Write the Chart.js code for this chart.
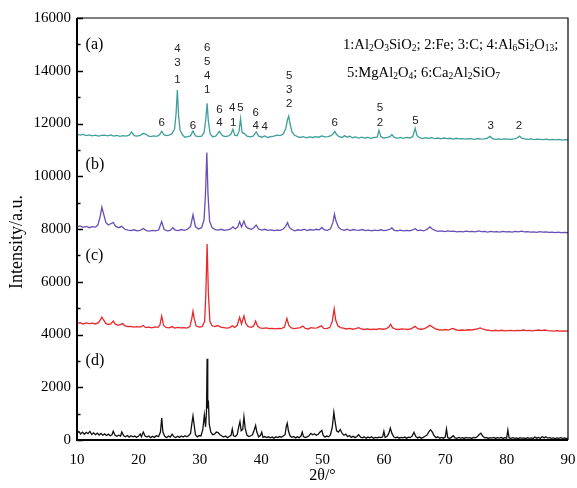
<!DOCTYPE html>
<html>
<head>
<meta charset="utf-8">
<script src="https://cdn.jsdelivr.net/npm/chart.js@4.4.1/dist/chart.umd.min.js"></script>
<style>
  html, body { margin: 0; padding: 0; background: #fff; }
  #xrdChart { display: block; }
</style>
</head>
<body>
<canvas id="xrdChart" width="577" height="488"></canvas>
<script>
// XRD patterns (a)-(d): [2θ, intensity]
const seriesA = [
  [10,11600],[10.5,11560],[11,11590],[11.5,11540],[12,11570],[12.5,11530],[13,11560],[13.5,11520],[14,11550],[14.5,11560],
  [15,11530],[15.5,11570],[16,11520],[16.5,11550],[17,11510],[17.5,11540],[18,11520],[18.5,11560],[18.9,11680],[19.3,11540],
  [19.8,11520],[20.3,11550],[20.8,11620],[21.2,11600],[21.6,11530],[22,11500],[22.5,11530],[23,11510],[23.4,11560],[23.8,11700],
  [24.2,11570],[24.6,11540],[25,11560],[25.5,11620],[25.9,11800],[26.15,12400],[26.35,13270],[26.55,12300],[26.8,11750],[27.2,11560],
  [27.6,11480],[28,11500],[28.5,11530],[28.9,11720],[29.3,11530],[29.8,11500],[30.3,11520],[30.7,11650],[31,12200],[31.2,12770],
  [31.4,12100],[31.7,11600],[32.1,11500],[32.6,11520],[33.2,11700],[33.7,11540],[34.2,11500],[34.7,11530],[35.1,11600],[35.4,11780],
  [35.7,11560],[36.1,11540],[36.4,11700],[36.65,12180],[36.9,11650],[37.3,11620],[37.7,11520],[38.2,11490],[38.7,11520],[39.2,11680],
  [39.6,11520],[40.1,11480],[40.6,11530],[41.1,11470],[41.6,11500],[42.1,11520],[42.6,11560],[43.1,11540],[43.6,11600],[44,11800],
  [44.3,12150],[44.5,12280],[44.7,12000],[45,11700],[45.4,11560],[45.9,11500],[46.4,11470],[46.9,11500],[47.4,11460],[47.9,11490],
  [48.4,11470],[48.9,11500],[49.4,11480],[49.9,11530],[50.4,11490],[50.9,11500],[51.4,11540],[51.8,11620],[52,11700],[52.3,11580],
  [52.7,11500],[53.2,11470],[53.6,11540],[54,11480],[54.4,11520],[54.9,11460],[55.4,11490],[55.9,11450],[56.4,11480],[56.9,11450],
  [57.4,11470],[57.9,11440],[58.4,11470],[58.9,11480],[59.2,11740],[59.5,11500],[60,11450],[60.5,11470],[61,11500],[61.3,11580],
  [61.7,11470],[62.2,11440],[62.7,11470],[63.2,11440],[63.7,11470],[64.2,11450],[64.7,11500],[65.1,11820],[65.4,11540],[65.8,11460],
  [66.3,11430],[66.8,11460],[67.3,11440],[67.8,11460],[68.3,11430],[68.8,11450],[69.3,11420],[69.8,11450],[70.3,11430],[70.8,11440],
  [71.3,11410],[71.8,11440],[72.3,11420],[72.8,11430],[73.3,11410],[73.8,11430],[74.3,11420],[74.8,11400],[75.3,11430],[75.8,11410],
  [76.3,11420],[76.8,11440],[77.3,11510],[77.7,11430],[78.2,11400],[78.7,11420],[79.2,11400],[79.7,11420],[80.2,11410],[80.7,11400],
  [81.2,11420],[81.7,11450],[82.1,11520],[82.5,11440],[83,11420],[83.5,11400],[84,11420],[84.5,11390],[85,11410],[85.5,11400],
  [86,11390],[86.5,11410],[87,11380],[87.5,11400],[88,11380],[88.5,11400],[89,11370],[89.5,11390],[90,11380]
];

const seriesB = [
  [10,8080],[10.5,8120],[11,8060],[11.5,8100],[12,8050],[12.5,8090],[13,8070],[13.4,8150],[13.8,8500],[14.05,8830],
  [14.3,8600],[14.7,8250],[15.1,8150],[15.5,8200],[15.9,8250],[16.3,8100],[16.8,8050],[17.3,8100],[17.8,7990],[18.3,7960],
  [18.8,7940],[19.3,7970],[19.8,7930],[20.3,7950],[20.8,8020],[21.3,7940],[21.8,7920],[22.3,7950],[22.8,7930],[23.3,7960],
  [23.8,8280],[24.2,7980],[24.7,7930],[25.2,7950],[25.6,8050],[26,7960],[26.5,7940],[27,7980],[27.5,7950],[28,7990],
  [28.5,8100],[28.9,8540],[29.3,8080],[29.8,8000],[30.3,8050],[30.7,8350],[30.95,9400],[31.15,10900],[31.35,9300],[31.6,8300],
  [32,8050],[32.5,7980],[33,7960],[33.5,7990],[34,7950],[34.5,7970],[35,7990],[35.4,8080],[35.8,8000],[36.2,8080],
  [36.5,8280],[36.8,8080],[37.2,8300],[37.5,8100],[37.9,8020],[38.4,7990],[38.8,8050],[39.2,8150],[39.6,8000],[40.1,7960],
  [40.6,7990],[41.1,7950],[41.6,7970],[42.1,7940],[42.6,7960],[43.1,7950],[43.6,8000],[44,8100],[44.3,8240],[44.6,8060],
  [45,7980],[45.5,7930],[46,7970],[46.5,7950],[47,7990],[47.5,7940],[48,7980],[48.5,7960],[49,7990],[49.5,7970],
  [49.9,8060],[50.3,7970],[50.8,7950],[51.3,8010],[51.7,8250],[51.95,8560],[52.2,8300],[52.6,8070],[53,7990],[53.5,7950],
  [54,7990],[54.5,7940],[55,7980],[55.5,7960],[56,7950],[56.5,7980],[57,7940],[57.5,7960],[58,7930],[58.5,7960],
  [59,7940],[59.5,7970],[60,7940],[60.5,7960],[61,7990],[61.3,8040],[61.7,7950],[62.2,7930],[62.7,7960],[63.2,7930],
  [63.7,7950],[64.2,7930],[64.7,7970],[65.1,8010],[65.5,7940],[66,7960],[66.5,7930],[67,7980],[67.5,8080],[67.9,8000],
  [68.4,7940],[68.9,7910],[69.4,7930],[69.9,7900],[70.4,7930],[70.9,7910],[71.4,7920],[71.9,7890],[72.4,7910],[72.9,7890],
  [73.4,7920],[73.9,7900],[74.4,7910],[74.9,7890],[75.4,7930],[75.9,7900],[76.4,7910],[76.9,7880],[77.4,7910],[77.9,7890],
  [78.4,7900],[78.9,7880],[79.4,7910],[79.9,7890],[80.4,7900],[80.9,7880],[81.4,7910],[81.9,7890],[82.4,7920],[82.9,7890],
  [83.4,7900],[83.9,7880],[84.4,7890],[84.9,7870],[85.4,7900],[85.9,7880],[86.4,7890],[86.9,7870],[87.4,7880],[87.9,7860],
  [88.4,7880],[88.9,7860],[89.4,7870],[90,7860]
];

const seriesC = [
  [10,4420],[10.5,4450],[11,4400],[11.5,4440],[12,4410],[12.5,4430],[13,4400],[13.5,4450],[13.8,4550],[14.05,4660],
  [14.3,4560],[14.7,4420],[15.1,4380],[15.5,4400],[15.9,4510],[16.2,4400],[16.7,4350],[17.1,4370],[17.4,4420],[17.8,4330],
  [18.3,4300],[18.8,4310],[19.3,4280],[19.8,4300],[20.3,4280],[20.8,4340],[21.2,4260],[21.7,4280],[22.2,4250],[22.7,4290],
  [23.2,4270],[23.5,4350],[23.8,4700],[24.1,4350],[24.5,4270],[25,4250],[25.5,4300],[25.9,4240],[26.4,4270],[26.9,4250],
  [27.4,4260],[27.9,4240],[28.4,4300],[28.7,4600],[28.9,4880],[29.1,4600],[29.4,4330],[29.9,4280],[30.4,4300],[30.8,4500],
  [31,5600],[31.2,7430],[31.4,5600],[31.65,4500],[32,4330],[32.5,4300],[32.9,4340],[33.4,4280],[33.9,4260],[34.4,4240],
  [34.9,4260],[35.3,4330],[35.7,4270],[36.1,4350],[36.5,4650],[36.8,4400],[37.2,4700],[37.5,4420],[37.9,4300],[38.4,4270],
  [38.8,4330],[39.1,4510],[39.4,4330],[39.8,4250],[40.3,4230],[40.8,4250],[41.3,4220],[41.8,4230],[42.3,4210],[42.8,4230],
  [43.3,4220],[43.8,4280],[44.2,4610],[44.5,4350],[44.9,4250],[45.4,4220],[45.9,4240],[46.4,4260],[46.8,4320],[47.2,4230],
  [47.7,4210],[48.1,4260],[48.6,4240],[49.1,4250],[49.8,4330],[50.2,4230],[50.7,4220],[51.2,4270],[51.6,4500],[51.9,4970],
  [52.15,4550],[52.5,4330],[52.9,4260],[53.4,4240],[53.9,4210],[54.4,4230],[54.9,4200],[55.4,4220],[55.9,4260],[56.3,4210],
  [56.8,4190],[57.3,4210],[57.8,4190],[58.3,4200],[58.8,4190],[59.3,4220],[59.8,4200],[60.3,4210],[60.8,4280],[61.1,4390],
  [61.4,4260],[61.9,4200],[62.4,4190],[62.9,4210],[63.4,4200],[63.9,4190],[64.4,4210],[64.8,4270],[65.1,4310],[65.5,4220],
  [66,4200],[66.5,4210],[67,4270],[67.5,4350],[68,4270],[68.5,4200],[69,4180],[69.5,4170],[70,4190],[70.5,4170],
  [71,4210],[71.3,4230],[71.7,4180],[72.2,4160],[72.7,4170],[73.2,4160],[73.7,4180],[74.2,4170],[74.7,4190],[75.2,4210],
  [75.7,4250],[76.2,4200],[76.7,4170],[77.2,4160],[77.7,4140],[78.2,4160],[78.7,4140],[79.2,4160],[79.7,4140],[80.2,4150],
  [80.7,4160],[81.2,4140],[81.7,4160],[82.2,4150],[82.7,4170],[83.2,4150],[83.7,4160],[84.2,4140],[84.7,4160],[85.2,4170],
  [85.7,4150],[86.2,4170],[86.7,4150],[87.2,4140],[87.7,4130],[88.2,4150],[88.7,4130],[89.2,4140],[90,4130]
];

const seriesD = [
  [10,250],[10.3,320],[10.6,230],[10.9,300],[11.2,220],[11.5,290],[11.8,240],[12.1,330],[12.4,210],[12.7,270],
  [13,200],[13.3,260],[13.6,190],[13.9,250],[14.2,180],[14.5,230],[14.8,170],[15.1,220],[15.4,160],[15.7,200],
  [15.9,330],[16.2,180],[16.5,140],[16.8,180],[17.1,150],[17.3,300],[17.6,160],[17.9,120],[18.2,170],[18.5,110],
  [18.8,160],[19.1,120],[19.4,150],[19.7,100],[20,140],[20.3,230],[20.5,120],[20.8,300],[21.1,150],[21.4,110],
  [21.7,150],[22,90],[22.3,140],[22.6,100],[22.9,160],[23.3,130],[23.6,300],[23.8,830],[24,300],[24.3,140],
  [24.6,90],[24.9,150],[25.2,110],[25.5,220],[25.8,120],[26.1,90],[26.4,140],[26.7,100],[27,150],[27.3,110],
  [27.6,160],[27.9,120],[28.2,170],[28.5,250],[28.7,600],[28.9,910],[29.1,550],[29.3,200],[29.6,120],[29.9,170],
  [30.2,150],[30.5,400],[30.75,950],[30.95,500],[31.1,1100],[31.2,3080],[31.3,1200],[31.4,1500],[31.55,600],[31.8,300],
  [32.1,200],[32.4,220],[32.7,300],[33,280],[33.3,200],[33.6,150],[33.9,110],[34.2,150],[34.5,90],[34.8,130],
  [35.1,180],[35.3,420],[35.5,160],[35.8,130],[36.1,200],[36.35,500],[36.55,700],[36.75,350],[37,400],[37.2,880],
  [37.4,450],[37.7,180],[38,130],[38.3,160],[38.6,200],[38.9,400],[39.1,550],[39.3,300],[39.6,120],[39.9,180],
  [40.1,300],[40.3,100],[40.6,130],[40.9,90],[41.2,120],[41.5,80],[41.8,110],[42.1,70],[42.4,120],[42.7,90],
  [43,130],[43.3,100],[43.6,150],[43.9,200],[44.1,520],[44.25,640],[44.45,350],[44.7,160],[45,100],[45.3,130],
  [45.6,80],[45.9,120],[46.2,90],[46.5,150],[46.7,300],[46.9,130],[47.2,90],[47.5,120],[47.8,160],[48.1,250],
  [48.4,200],[48.7,240],[49,180],[49.3,220],[49.6,300],[49.9,360],[50.1,180],[50.4,110],[50.7,150],[51,120],
  [51.3,200],[51.6,500],[51.85,1050],[52.05,700],[52.3,350],[52.6,300],[52.9,400],[53.2,250],[53.5,180],[53.8,220],
  [54.1,130],[54.4,170],[54.7,100],[55,140],[55.3,90],[55.6,130],[55.9,200],[56.2,110],[56.5,80],[56.8,120],
  [57.1,70],[57.4,110],[57.7,80],[58,120],[58.3,70],[58.6,100],[58.9,80],[59.2,110],[59.5,90],[59.8,120],
  [60,330],[60.2,100],[60.5,130],[60.8,250],[61.05,450],[61.3,260],[61.6,120],[61.9,80],[62.2,110],[62.5,70],
  [62.8,100],[63.1,80],[63.4,110],[63.7,70],[64,110],[64.3,90],[64.6,150],[64.9,290],[65.2,130],[65.5,80],
  [65.8,110],[66.1,70],[66.4,100],[66.7,140],[67,180],[67.3,300],[67.6,390],[67.9,300],[68.2,160],[68.5,90],
  [68.8,120],[69.1,70],[69.4,100],[69.7,70],[70,110],[70.2,420],[70.4,90],[70.7,60],[71,100],[71.3,160],
  [71.6,80],[71.9,60],[72.2,100],[72.5,70],[72.8,90],[73.1,60],[73.4,100],[73.7,70],[74,90],[74.3,60],
  [74.6,100],[74.9,80],[75.2,120],[75.5,200],[75.8,260],[76.1,150],[76.4,80],[76.7,100],[77,60],[77.3,90],
  [77.6,70],[77.9,100],[78.2,60],[78.5,90],[78.8,70],[79.1,100],[79.4,60],[79.7,90],[80,70],[80.2,380],
  [80.4,80],[80.7,60],[81,90],[81.3,60],[81.6,80],[81.9,50],[82.2,90],[82.5,60],[82.8,80],[83.1,50],
  [83.4,90],[83.7,60],[84,80],[84.3,60],[84.6,110],[84.9,70],[85.2,100],[85.5,60],[85.8,130],[86.1,80],
  [86.4,120],[86.7,70],[87,90],[87.3,60],[87.6,80],[87.9,50],[88.2,80],[88.5,60],[88.8,90],[89.1,60],
  [89.4,80],[89.7,50],[90,70]
];

// axis ticks
const xTicks = [10, 20, 30, 40, 50, 60, 70, 80, 90];
const yTicks = [0, 2000, 4000, 6000, 8000, 10000, 12000, 14000, 16000];

// sample labels: [2θ, intensity, text]
const panelLabels = [[11.4, 14975, "(a)"], [11.4, 10425, "(b)"], [11.4, 6975, "(c)"], [11.4, 2995, "(d)"]];

// phase numbers above the peaks of (a): [2θ, intensity, text]
const peakMarks = [
  [23.8, 12019, "6"],
  [26.35, 14825, "4"], [26.35, 14294, "3"], [26.35, 13650, "1"],
  [28.9, 11905, "6"],
  [31.2, 14863, "6"], [31.2, 14332, "5"], [31.2, 13801, "4"], [31.2, 13270, "1"],
  [33.2, 12512, "6"], [33.2, 12019, "4"],
  [35.3, 12588, "4"], [35.45, 12019, "1"],
  [36.65, 12588, "5"],
  [39.1, 12398, "6"], [39.1, 11905, "4"],
  [40.6, 11867, "4"],
  [44.57, 13801, "5"], [44.57, 13270, "3"], [44.57, 12739, "2"],
  [52.0, 12019, "6"],
  [59.35, 12588, "5"], [59.35, 12019, "2"],
  [65.15, 12095, "5"],
  [77.4, 11905, "3"],
  [82.0, 11905, "2"]
];

// phase key, "_" marks a subscript number
const phaseKey = [
  [53.34, 14976, "1:Al_2O_3SiO_2; 2:Fe; 3:C; 4:Al_6Si_2O_13;"],
  [53.99, 13915, "5:MgAl_2O_4; 6:Ca_2Al_2SiO_7"]
];

const seriesColors = ["#3f9f9b", "#6a4eb6", "#e8282b", "#111111"];
const SERIF = "'Liberation Serif', 'Times New Roman', serif";
const SANS = "'Liberation Sans', Arial, sans-serif";

// draw text with subscript digits after "_"
function drawRichText(ctx, str, x, y) {
  const parts = str.split(/_(\d+)/);
  let cx = x;
  parts.forEach((p, i) => {
    if (!p) return;
    const sub = i % 2 === 1;
    ctx.font = sub ? "9.5px " + SERIF : "14.6px " + SERIF;
    ctx.fillText(p, cx, sub ? y + 3.5 : y);
    cx += ctx.measureText(p).width;
  });
}

const decorPlugin = {
  id: "decor",
  afterDatasetsDraw(chart) {
    const ctx = chart.ctx;
    const xs = chart.scales.x, ys = chart.scales.y;
    const a = chart.chartArea;
    ctx.save();

    // frame: heavier left and bottom axis
    ctx.strokeStyle = "#000";
    ctx.lineWidth = 1.2;
    ctx.beginPath();
    ctx.moveTo(a.left, a.top); ctx.lineTo(a.right, a.top); ctx.lineTo(a.right, a.bottom);
    ctx.stroke();
    ctx.lineWidth = 2;
    ctx.beginPath();
    ctx.moveTo(a.left, a.top); ctx.lineTo(a.left, a.bottom); ctx.lineTo(a.right, a.bottom);
    ctx.stroke();

    // inward ticks on y axis
    ctx.lineWidth = 1.5;
    for (let v = 0; v <= 16000; v += 1000) {
      const py = Math.round(ys.getPixelForValue(v)) + 0.5;
      const len = v % 2000 === 0 ? 6 : 3.5;
      ctx.beginPath();
      ctx.moveTo(a.left, py); ctx.lineTo(a.left + len, py);
      ctx.stroke();
    }

    // axis titles
    ctx.fillStyle = "#000";
    ctx.font = "18px " + SERIF;
    ctx.textAlign = "center";
    ctx.textBaseline = "middle";
    ctx.save();
    ctx.translate(17, (a.top + a.bottom) / 2 + 13);
    ctx.rotate(-Math.PI / 2);
    ctx.fillText("Intensity/a.u.", 0, 0);
    ctx.restore();
    ctx.font = "16px " + SERIF;
    ctx.fillText("2θ/°", (a.left + a.right) / 2, 476);

    // sample labels
    ctx.textAlign = "left";
    ctx.font = "16px " + SERIF;
    panelLabels.forEach(([x, y, t]) => ctx.fillText(t, xs.getPixelForValue(x), ys.getPixelForValue(y)));

    // phase numbers
    ctx.textAlign = "center";
    ctx.font = "11.5px " + SANS;
    ctx.fillStyle = "#222";
    peakMarks.forEach(([x, y, t]) => ctx.fillText(t, xs.getPixelForValue(x), ys.getPixelForValue(y)));

    // phase key
    ctx.textAlign = "left";
    ctx.fillStyle = "#000";
    phaseKey.forEach(([x, y, t]) => drawRichText(ctx, t, xs.getPixelForValue(x), ys.getPixelForValue(y)));

    ctx.restore();
  }
};

function makeDataset(points, color) {
  return {
    data: points.map(p => ({ x: p[0], y: p[1] })),
    borderColor: color,
    borderWidth: 1.3,
    pointRadius: 0,
    tension: 0,
    fill: false
  };
}

// fixed axis box sizes so the plot area sits where the original one does
function fixBox(size, horizontal) {
  return s => {
    if (horizontal) s.height = size; else s.width = size;
    s.paddingLeft = 0; s.paddingRight = 0; s.paddingTop = 0; s.paddingBottom = 0;
  };
}

const ctx = document.getElementById("xrdChart").getContext("2d");
new Chart(ctx, {
  type: "line",
  data: {
    datasets: [
      makeDataset(seriesA, seriesColors[0]),
      makeDataset(seriesB, seriesColors[1]),
      makeDataset(seriesC, seriesColors[2]),
      makeDataset(seriesD, seriesColors[3])
    ]
  },
  options: {
    responsive: false,
    animation: false,
    layout: { padding: { top: 18, right: 9, left: 0, bottom: 0 } },
    plugins: { legend: { display: false }, tooltip: { enabled: false } },
    scales: {
      x: {
        type: "linear",
        min: 10, max: 90,
        afterBuildTicks: s => { s.ticks = xTicks.map(v => ({ value: v })); },
        afterFit: fixBox(48, true),
        grid: { display: false, drawTicks: false },
        border: { display: false },
        ticks: { color: "#000", font: { family: SERIF, size: 15 }, padding: 11, maxRotation: 0,
                 callback: v => String(v) }
      },
      y: {
        min: 0, max: 16000,
        afterBuildTicks: s => { s.ticks = yTicks.map(v => ({ value: v })); },
        afterFit: fixBox(77, false),
        grid: { display: false, drawTicks: false },
        border: { display: false },
        ticks: { color: "#000", font: { family: SERIF, size: 15 }, padding: 6,
                 callback: v => String(v) }
      }
    }
  },
  plugins: [decorPlugin]
});
</script>
</body>
</html>
